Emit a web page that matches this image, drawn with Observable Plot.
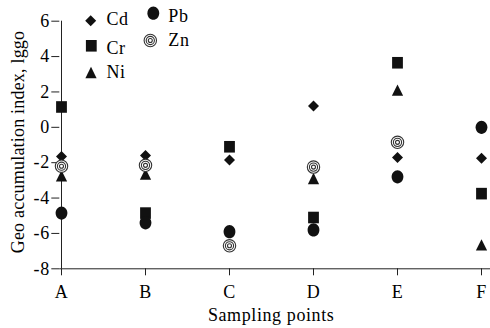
<!DOCTYPE html>
<html><head><meta charset="utf-8">
<script src="https://cdn.jsdelivr.net/npm/d3@7"></script>
<script src="https://cdn.jsdelivr.net/npm/@observablehq/plot@0.6"></script>
<style>
html,body{margin:0;padding:0;background:#fff;}
#chart{position:relative;width:490px;height:328px;}
#chart svg text{font-family:"Liberation Serif","Times New Roman",Times,serif !important;font-size:18px !important;letter-spacing:0.6px;fill:#000;}
#chart svg text.ylab{letter-spacing:0.2px;}
</style></head><body><div id="chart"></div>
<script>
// ---- data ----
const categories = ["A", "B", "C", "D", "E", "F"];
const seriesNames = ["Cd", "Cr", "Ni", "Pb", "Zn"];
const cdValues = [-1.65, -1.6, -1.85, 1.2, -1.7, -1.75];
const crValues = [1.15, -4.85, -1.1, -5.1, 3.65, -3.75];
const niValues = [-2.85, -2.75, null, -3.0, 2.0, -6.75];
const pbValues = [-4.85, -5.4, -5.9, -5.8, -2.8, 0.0];
const znValues = [-2.2, -2.15, -6.7, -2.25, -0.85, null];
const yTicks = [-8, -6, -4, -2, 0, 2, 4, 6];
const xLabel = "Sampling points";
const yLabel = "Geo accumulation index, lggo";

// ---- symbols (custom, scale with r) ----
function mk(fn) { return {draw(ctx, size) { fn(ctx, Math.sqrt(size / Math.PI)); }}; }
const diamond = mk((c, s) => { const h = 5.5 * s; c.moveTo(0, -h); c.lineTo(h, 0); c.lineTo(0, h); c.lineTo(-h, 0); c.closePath(); });
const square = mk((c, s) => { const w = 5.4 * s, h = 5.8 * s; c.moveTo(-w, -h); c.lineTo(w, -h); c.lineTo(w, h); c.lineTo(-w, h); c.closePath(); });
const triangle = mk((c, s) => { const w = 5.6 * s, H = 11.3 * s; c.moveTo(0, -H * 2 / 3); c.lineTo(w, H / 3); c.lineTo(-w, H / 3); c.closePath(); });
const ellipse = mk((c, s) => {
  const rx = 5.9 * s, ry = 6.6 * s, k = 0.5523;
  c.moveTo(rx, 0);
  c.bezierCurveTo(rx, ry * k, rx * k, ry, 0, ry);
  c.bezierCurveTo(-rx * k, ry, -rx, ry * k, -rx, 0);
  c.bezierCurveTo(-rx, -ry * k, -rx * k, -ry, 0, -ry);
  c.bezierCurveTo(rx * k, -ry, rx, -ry * k, rx, 0);
  c.closePath();
});
const rings = mk((c, s) => { for (const rr of [6.2, 4.1, 2.0]) { c.moveTo(rr * s, 0); c.arc(0, 0, rr * s, 0, 2 * Math.PI); } });

const seriesValues = {Cd: cdValues, Cr: crValues, Ni: niValues, Pb: pbValues, Zn: znValues};
const seriesSymbol = {Cd: diamond, Cr: square, Ni: triangle, Pb: ellipse, Zn: rings};

function rowsOf(name) {
  return categories.map((c, i) => ({sample: c, value: seriesValues[name][i]})).filter(d => d.value != null);
}

const font = "Liberation Serif, Times New Roman, serif";

const marks = [
  Plot.ruleY([-8], {stroke: "#222"}),
  Plot.ruleX([categories[0]], {stroke: "#222"}),
  Plot.axisY(yTicks, {tickSize: 8, tickPadding: 2, tickFormat: d => String(d), fontSize: 18, label: null, stroke: "#222"}),
  Plot.axisX(categories, {tickSize: 7, tickPadding: 9, fontSize: 18, label: null, stroke: "#222"}),
  Plot.text([xLabel], {frameAnchor: "bottom", textAnchor: "middle", dy: 46.5, dx: -4, lineAnchor: "middle", fontSize: 18}),
  Plot.text([yLabel], {frameAnchor: "left", textAnchor: "middle", rotate: -90, dx: -42, dy: -3, lineAnchor: "middle", fontSize: 18, className: "ylab"})
];
for (const name of seriesNames) {
  const isRing = name === "Zn";
  marks.push(Plot.dot(rowsOf(name), {
    x: "sample", y: "value", r: 1, symbol: seriesSymbol[name],
    fill: isRing ? "white" : "#111", stroke: isRing ? "#333" : "none", strokeWidth: isRing ? 1.1 : 0
  }));
}

const plot = Plot.plot({
  width: 490, height: 328,
  marginLeft: 59.3, marginRight: 0, marginTop: 20.7, marginBottom: 59.7,
  style: {fontFamily: font, fontSize: "18px", color: "#000", background: "#fff"},
  x: {type: "point", domain: categories, range: [59.3, 483.5], padding: 0, axis: null},
  y: {domain: [-8, 6], axis: null},
  marks
});

// mark the y label text for its own spacing
d3.select(plot).selectAll("text").filter(function() { return this.textContent === yLabel; }).classed("ylab", true);

// ---- legend (inside plot area, upper left) ----
const legendLayout = {
  Cd: {sx: 90.7, sy: 20.7, tx: 106.5, ty: 25},
  Cr: {sx: 91.3, sy: 45.8, tx: 106.5, ty: 54},
  Ni: {sx: 91, sy: 74.4, tx: 106.5, ty: 78.3},
  Pb: {sx: 153.3, sy: 13.2, tx: 168.3, ty: 21.7},
  Zn: {sx: 150.3, sy: 40.5, tx: 168.3, ty: 45.7}
};
const svg = d3.select(plot);
const lg = svg.append("g").attr("text-anchor", "start");
for (const name of seriesNames) {
  const L = legendLayout[name];
  const isRing = name === "Zn";
  lg.append("path")
    .attr("d", d3.symbol(seriesSymbol[name], Math.PI)())
    .attr("transform", `translate(${L.sx},${L.sy})`)
    .attr("fill", isRing ? "white" : "#111")
    .attr("stroke", isRing ? "#333" : "none")
    .attr("stroke-width", isRing ? 1.1 : 0);
  lg.append("text").attr("x", L.tx).attr("y", L.ty).attr("text-anchor", "start").text(name);
}

document.getElementById("chart").appendChild(plot);
</script>
</body></html>
